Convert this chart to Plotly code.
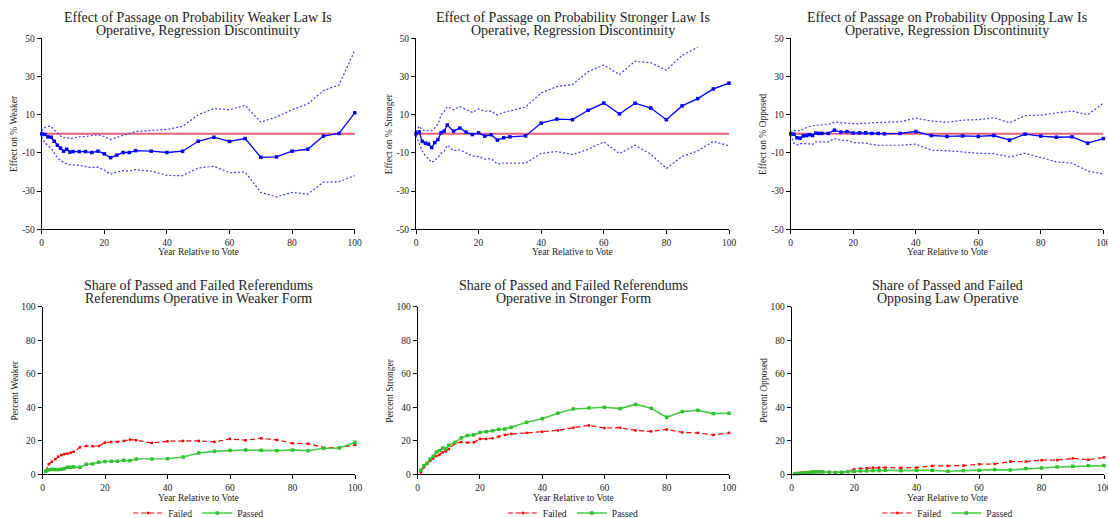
import plotly.graph_objects as go

# ---------------- data ----------------
YEARS = list(range(0, 11)) + list(range(12, 31, 2)) + list(range(35, 101, 5))
YEARS_B = YEARS[1:]

weaker_est = [0, -0.3, -1.6, -1.8, -3.9, -6, -7.5, -9.1, -8.1, -9.6, -9.3,
              -9.3, -9.3, -9.8, -9.1, -10.5, -12.5, -11.2, -9.8, -9.8, -8.8,
              -9.1, -9.8, -9.1, -3.9, -1.8, -4, -2.5, -12.3, -12.1, -9.1, -8.1, -1.2, 0.2, 11]
weaker_hi = [1.5, 3.3, 3.9, 3.9, 2.0, 0.2, -1.2, -2.1, -1.8, -2.6, -2.3,
             -1.6, -1.4, -1.1, -0.5, -1.4, -3, -1.9, -0.7, 0.2, 1.2,
             1.8, 2.3, 3.9, 10, 13.2, 12.6, 14.9, 6.1, 8.8, 12.6, 15.6, 22.6, 25.6, 43.7]
weaker_lo = [-1.5, -4.6, -6.3, -7.5, -10, -12.5, -14, -15, -15.8, -16.2, -16.3,
             -16.5, -17.2, -17.7, -17.5, -19, -21.2, -20, -19.3, -19.5, -18.8,
             -19.6, -21.8, -21.9, -17.9, -17, -20.4, -20, -30.7, -33, -30.7, -31.6, -25.3, -25.1, -21.9]

stronger_est = [0, 1, -4, -4.9, -5.4, -7.2, -4.6, -3, 0.5, 1.4, 4.6,
                1.4, 3, 0.9, -0.4, 0.5, -1.2, -0.5, -3.3, -2.1, -1.6,
                -1.1, 5.6, 7.7, 7.4, 12.3, 16.1, 10.4, 16, 13.5, 7.4, 14.6, 18.4, 23.5, 26.5]
stronger_hi = [1, 4, 2.1, 1.5, 1.6, 1.6, 3, 5, 9.8, 11.5, 14.2,
               12.6, 14.2, 12.6, 11.2, 13, 11.8, 11.9, 9.8, 11.2, 12.1,
               14, 21.4, 24.7, 25.8, 32.5, 36, 31, 38, 37.2, 33.3, 41, 45.3, None, None]
stronger_lo = [-1, -4.6, -9, -11.5, -13.5, -15, -14, -12.5, -10.2, -9, -6,
               -8.8, -8.4, -9.8, -11.6, -11.9, -13.3, -13, -15.8, -15.3, -15.3,
               -15.4, -10.2, -9.3, -10.9, -8.1, -4.2, -10.4, -6, -10.7, -18.1, -11.9, -9, -3.9, -6.3]

opposed_est = [0, -0.2, -2.1, -2.3, -1.1, -0.9, -0.5, -0.9, 0.4, 0.2, 0.2,
               0.2, 1.9, 0.9, 1.2, 0.4, 0.5, 0.5, 0.2, 0.2, 0,
               0.2, 1.2, -0.9, -1.4, -1.1, -1.4, -0.9, -3.3, -0.2, -1.2, -1.8, -1.6, -4.9, -2.5]
opposed_hi = [0.5, 1.8, 1.5, 1.6, 2.5, 3.3, 3.8, 4.2, 4.5, 4.6, 4.6,
              4.9, 6.1, 5.8, 5.8, 5.3, 5.4, 5.6, 5.6, 5.8, 6,
              6.3, 8.2, 6.7, 6, 7.2, 7.4, 8.4, 5.8, 9.5, 9.8, 10.9, 11.9, 10, 16]
opposed_lo = [-0.5, -4.9, -5.8, -5.2, -5.1, -5.1, -5.3, -5.6, -4.2, -4.2, -4.2,
              -4.2, -2.5, -3.3, -3.5, -4.6, -4.7, -4.9, -5.6, -6, -6,
              -6, -5.4, -8.6, -8.8, -9.5, -10.2, -10.4, -12.1, -10.2, -12.6, -14.7, -15.3, -19.5, -21]

weaker_failed = [1.6, 6, 7.5, 9, 10.5, 11.5, 12.1, 12.3, 12.9, 13.5,
                 16.1, 16.9, 16.7, 16.9, 18.9, 19.3, 19.3, 19.9, 20.7, 20.3,
                 18.7, 19.7, 19.9, 19.9, 19.3, 21.1, 20.3, 21.5, 20.5, 18.5, 18.3, 15.9, 15.9, 17.5]
weaker_passed = [1.8, 2.6, 3, 2.8, 2.8, 3, 3.4, 4.2, 4.2, 4.4,
                 4.2, 6, 6.2, 7.2, 7.6, 7.8, 7.8, 8.4, 8.2, 9.1,
                 9.1, 9.3, 10.3, 12.7, 13.7, 14.3, 14.5, 14.3, 14.1, 14.5, 14.1, 15.5, 15.7, 19.1]

stronger_failed = [1.2, 4.2, 6.2, 8, 9.5, 10.9, 11.7, 13.1, 13.7, 15.1,
                   18.5, 19.3, 18.9, 19.1, 21.1, 21.1, 21.5, 22.5, 23.5, 24.1,
                   24.7, 25.4, 26.2, 27.8, 29.2, 27.6, 27.8, 26.2, 25.6, 26.8, 25, 24.7, 23.5, 24.7]
stronger_passed = [2.4, 5.2, 6.6, 9.1, 10.7, 13.3, 14.1, 15.7, 15.3, 17.3,
                   19.1, 21.7, 23.1, 23.5, 25, 25.4, 26, 26.8, 27, 28,
                   31, 33.2, 36.4, 39, 39.6, 40, 39.2, 41.7, 39.4, 34, 37.4, 38.2, 36.2, 36.4]

opposed_failed = [0.6, 0.8, 0.9, 1, 1.2, 1.4, 1.5, 1.6, 1.6, 1.6,
                  1.4, 1.2, 1.2, 1.8, 3, 3.4, 3.6, 4, 4, 4,
                  3.8, 4, 5, 5, 5.2, 6, 6.2, 7.6, 7.6, 8.4, 8.5, 9.5, 8.7, 10.1]
opposed_passed = [0.4, 0.4, 0.6, 0.8, 1, 1.2, 1.4, 1.4, 1.4, 1.4,
                  1.2, 1, 1.2, 1.6, 1.8, 2, 2, 2.2, 2.2, 2.4,
                  2.2, 2.4, 2.4, 1.8, 2.2, 2.4, 2.8, 2.6, 3.4, 3.8, 4.4, 4.8, 5.2, 5.2]

TOP_TITLES = [("Effect of Passage on Probability Weaker Law Is", "Operative, Regression Discontinuity"),
              ("Effect of Passage on Probability Stronger Law Is", "Operative, Regression Discontinuity"),
              ("Effect of Passage on Probability Opposing Law Is", "Operative, Regression Discontinuity")]
BOT_TITLES = [("Share of Passed and Failed Referendums", "Referendums Operative in Weaker Form"),
              ("Share of Passed and Failed Referendums", "Operative in Stronger Form"),
              ("Share of Passed and Failed", "Opposing Law Operative")]
TOP_YLABELS = ["Effect on % Weaker", "Effect on % Stronger", "Effect on % Opposed"]
BOT_YLABELS = ["Percent Weaker", "Percent Stronger", "Percent Opposed"]
XLABEL = "Year Relative to Vote"
X_TICKS = [0, 20, 40, 60, 80, 100]
TOP_Y_TICKS = [-50, -30, -10, 10, 30, 50]
BOT_Y_TICKS = [0, 20, 40, 60, 80, 100]

# ---------------- layout geometry ----------------
W, H = 1108, 518
FONT = "Liberation Serif"
TXT = "#222222"


def fx(px):
    return px / W


def fy(py):
    return 1 - py / H


top_x = [(41.7, 354.7), (416, 729), (790.7, 1103.3)]
bot_x = [(42.5, 355), (417.7, 729), (791.7, 1104)]
top_y = (229.3, 38.3)
bot_y = (474.3, 306.7)

fig = go.Figure()

axis_common = dict(showline=True, linecolor="black", linewidth=1, ticks="outside",
                   ticklen=4, tickwidth=1, tickcolor="black", showgrid=False,
                   zeroline=False, mirror=False, automargin=False,
                   ticklabeloverflow="allow",
                   tickfont=dict(family=FONT, size=9.5, color=TXT))

annotations = []
shapes = []


def ann(text, px, py, size, angle=0):
    annotations.append(dict(text=text, x=fx(px), y=fy(py), xref="paper", yref="paper",
                            showarrow=False, xanchor="center", yanchor="middle",
                            textangle=angle, font=dict(family=FONT, size=size, color=TXT)))


top_sets = [(weaker_est, weaker_hi, weaker_lo),
            (stronger_est, stronger_hi, stronger_lo),
            (opposed_est, opposed_hi, opposed_lo)]
bot_sets = [(weaker_failed, weaker_passed),
            (stronger_failed, stronger_passed),
            (opposed_failed, opposed_passed)]

for i in range(3):
    n = i + 1
    xa = "x" if n == 1 else f"x{n}"
    ya = "y" if n == 1 else f"y{n}"
    xk = "xaxis" if n == 1 else f"xaxis{n}"
    yk = "yaxis" if n == 1 else f"yaxis{n}"
    fig.update_layout(**{
        xk: dict(domain=[fx(top_x[i][0]), fx(top_x[i][1])], range=[0, 100],
                 tickvals=X_TICKS, anchor=ya, **axis_common),
        yk: dict(domain=[fy(top_y[0]), fy(top_y[1])], range=[-50, 50],
                 tickvals=TOP_Y_TICKS, ticktext=[str(v) for v in TOP_Y_TICKS],
                 anchor=xa, **axis_common),
    })
    est, hi, lo = top_sets[i]
    shapes.append(dict(type="line", xref=f"{xa} domain", yref=ya, x0=0, x1=1, y0=0, y1=0,
                       line=dict(color="#E0607A", width=2), layer="below"))
    for ci in (hi, lo):
        fig.add_trace(go.Scatter(x=YEARS, y=ci, xaxis=xa, yaxis=ya, mode="lines",
                                 line=dict(color="#3b3bff", width=1.2, dash="2px,2px"),
                                 showlegend=False, cliponaxis=False, connectgaps=False))
    fig.add_trace(go.Scatter(x=YEARS, y=est, xaxis=xa, yaxis=ya, mode="lines+markers",
                             line=dict(color="#0000ff", width=1.3),
                             marker=dict(color="#0000ff", size=3.5, symbol="square"),
                             showlegend=False, cliponaxis=False))
    cx = (top_x[i][0] + top_x[i][1]) / 2
    ann(TOP_TITLES[i][0], cx, 17, 14)
    ann(TOP_TITLES[i][1], cx, 30.5, 14)
    ann(XLABEL, cx, 251.5, 9.5)
    ann(TOP_YLABELS[i], top_x[i][0] - 27.5, (top_y[0] + top_y[1]) / 2, 9.5, -90)

for i in range(3):
    n = i + 4
    xa, ya = f"x{n}", f"y{n}"
    xk, yk = f"xaxis{n}", f"yaxis{n}"
    fig.update_layout(**{
        xk: dict(domain=[fx(bot_x[i][0]), fx(bot_x[i][1])], range=[0, 100],
                 tickvals=X_TICKS, anchor=ya, **axis_common),
        yk: dict(domain=[fy(bot_y[0]), fy(bot_y[1])], range=[0, 100],
                 tickvals=BOT_Y_TICKS, anchor=xa, **axis_common),
    })
    failed, passed = bot_sets[i]
    lg = "legend" if i == 0 else f"legend{i + 1}"
    fig.add_trace(go.Scatter(x=YEARS_B, y=failed, xaxis=xa, yaxis=ya, mode="lines+markers",
                             name="Failed", legend=lg,
                             line=dict(color="#ff0000", width=1.2, dash="5px,3px"),
                             marker=dict(color="#ff0000", size=2.5, symbol="square"),
                             cliponaxis=False))
    fig.add_trace(go.Scatter(x=YEARS_B, y=passed, xaxis=xa, yaxis=ya, mode="lines+markers",
                             name="Passed", legend=lg,
                             line=dict(color="#45cc45", width=1.6),
                             marker=dict(color="#2fc12f", size=3.5, symbol="square"),
                             cliponaxis=False))
    cx = (bot_x[i][0] + bot_x[i][1]) / 2
    ann(BOT_TITLES[i][0], cx, 285, 14)
    ann(BOT_TITLES[i][1], cx, 298.5, 14)
    ann(XLABEL, cx, 497.5, 9.5)
    ann(BOT_YLABELS[i], bot_x[i][0] - 28.5, (bot_y[0] + bot_y[1]) / 2, 9.5, -90)
    fig.update_layout(**{lg: dict(orientation="h", x=fx(cx), y=fy(513), xanchor="center",
                                  yanchor="middle", xref="container", yref="container",
                                  bgcolor="rgba(0,0,0,0)", borderwidth=0,
                                  font=dict(family=FONT, size=9.5, color=TXT),
                                  itemwidth=30, tracegroupgap=0)})

fig.update_layout(width=W, height=H, margin=dict(l=0, r=0, t=0, b=0, autoexpand=False),
                  paper_bgcolor="white", plot_bgcolor="white",
                  annotations=annotations, shapes=shapes,
                  font=dict(family=FONT, color=TXT))

fig.write_html("out.html", config={"displayModeBar": False},
               post_script="document.body.style.margin='0';document.body.style.overflow='hidden';")
